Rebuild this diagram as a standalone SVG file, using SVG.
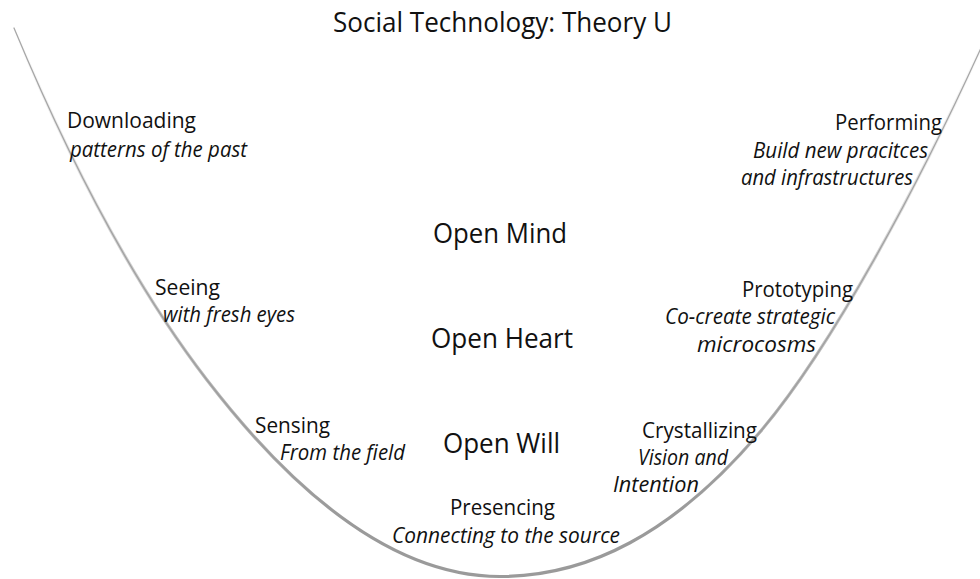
<svg xmlns="http://www.w3.org/2000/svg" width="980" height="579" viewBox="0 0 980 579">
  <style>
    text { font-family: "Open Sans", "Noto Sans", "Liberation Sans", sans-serif; fill: #111; }
    .title { font-size: 27px; }
    .big { font-size: 27px; }
    .lbl { font-size: 21px; }
    .sub { font-size: 21px; font-style: italic; }
    .curve { fill: none; stroke-linecap: round; }
  </style>
  <defs>
    <linearGradient id="fade" gradientUnits="userSpaceOnUse" x1="0" y1="30" x2="0" y2="520">
      <stop offset="0" stop-color="#9a9a9a" stop-opacity="0"/>
      <stop offset="1" stop-color="#9a9a9a" stop-opacity="1"/>
    </linearGradient>
    <path id="u" d="M14,28 C78,181.6 143,296.8 207,380 C305,507.4 402,576.5 500,576.5 C587,576.5 673,534.7 760,432 C833,345.9 920,182 981,48"/>
  </defs>
  <rect width="980" height="579" fill="#fff"/>

  <g id="u-curve">
    <use href="#u" class="curve" stroke="#a8a8a8" stroke-width="1.3"/>
    <use href="#u" class="curve" stroke="url(#fade)" stroke-width="3.2"/>
  </g>

  <g id="title"><text class="title" x="333" y="32" textLength="339" lengthAdjust="spacingAndGlyphs">Social Technology: Theory U</text></g>

  <g id="downloading">
    <text class="lbl" x="67" y="128" textLength="129" lengthAdjust="spacingAndGlyphs">Downloading</text>
    <text class="sub" x="70" y="157" textLength="177" lengthAdjust="spacingAndGlyphs">patterns of the past</text>
  </g>
  <g id="seeing">
    <text class="lbl" x="155" y="295" textLength="65" lengthAdjust="spacingAndGlyphs">Seeing</text>
    <text class="sub" x="163" y="322" textLength="132" lengthAdjust="spacingAndGlyphs">with fresh eyes</text>
  </g>
  <g id="sensing">
    <text class="lbl" x="255" y="433" textLength="75" lengthAdjust="spacingAndGlyphs">Sensing</text>
    <text class="sub" x="280" y="460" textLength="125" lengthAdjust="spacingAndGlyphs">From the field</text>
  </g>
  <g id="presencing">
    <text class="lbl" x="450" y="515" textLength="105" lengthAdjust="spacingAndGlyphs">Presencing</text>
    <text class="sub" x="392" y="543" textLength="228" lengthAdjust="spacingAndGlyphs">Connecting to the source</text>
  </g>
  <g id="crystallizing">
    <text class="lbl" x="642" y="438" textLength="115" lengthAdjust="spacingAndGlyphs">Crystallizing</text>
    <text class="sub" x="638" y="465" textLength="90" lengthAdjust="spacingAndGlyphs">Vision and</text>
    <text class="sub" x="613" y="492" textLength="86" lengthAdjust="spacingAndGlyphs">Intention</text>
  </g>
  <g id="prototyping">
    <text class="lbl" x="742" y="297" textLength="111" lengthAdjust="spacingAndGlyphs">Prototyping</text>
    <text class="sub" x="665" y="324" textLength="170" lengthAdjust="spacingAndGlyphs">Co-create strategic</text>
    <text class="sub" x="697" y="352" textLength="119" lengthAdjust="spacingAndGlyphs">microcosms</text>
  </g>
  <g id="performing">
    <text class="lbl" x="835" y="130" textLength="107" lengthAdjust="spacingAndGlyphs">Performing</text>
    <text class="sub" x="753" y="158" textLength="175" lengthAdjust="spacingAndGlyphs">Build new pracitces</text>
    <text class="sub" x="741" y="185" textLength="172" lengthAdjust="spacingAndGlyphs">and infrastructures</text>
  </g>

  <g id="open-mind"><text class="big" x="433" y="243" textLength="134" lengthAdjust="spacingAndGlyphs">Open Mind</text></g>
  <g id="open-heart"><text class="big" x="431" y="348" textLength="142" lengthAdjust="spacingAndGlyphs">Open Heart</text></g>
  <g id="open-will"><text class="big" x="443" y="453" textLength="117" lengthAdjust="spacingAndGlyphs">Open Will</text></g>
</svg>
